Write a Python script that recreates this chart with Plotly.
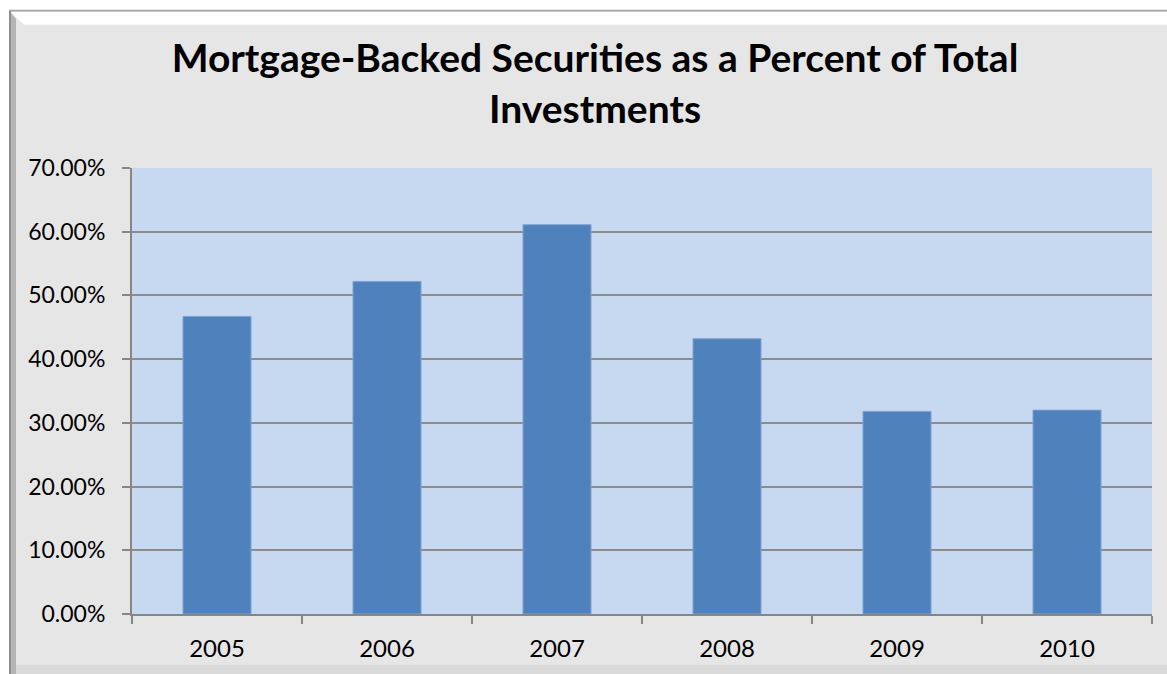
import plotly.graph_objects as go

# Share of total investments held in mortgage-backed securities, by year
years = ["2005", "2006", "2007", "2008", "2009", "2010"]
mbs_share = [46.7, 52.2, 61.1, 43.2, 31.8, 32.0]  # percent

y_ticks = [0, 10, 20, 30, 40, 50, 60, 70]
y_tick_labels = [f"{v:.2f}%" for v in y_ticks]

title_text = "Mortgage-Backed Securities as a Percent of Total<br>Investments"

FONT = "Lato"

fig = go.Figure(
    go.Bar(
        x=years,
        y=mbs_share,
        marker=dict(color="#4f81bd", line=dict(color="#7fa2d2", width=1)),
        width=0.4,
        hoverinfo="x+y",
    )
)

W, H = 1167, 674
L, R, T, B = 132, 15, 168, 58
pw, ph = W - L - R, H - T - B


def px(x):
    return (x - L) / pw


def py(y):
    return (H - B - y) / ph


# Bevelled chart frame around the grey panel (kept clear of the plot area)
shapes = [
    # white strip above the panel
    dict(type="rect", xref="paper", yref="paper", x0=px(-5), x1=px(W + 5), y0=py(10), y1=py(-5),
         layer="below", line=dict(width=0), fillcolor="#ffffff"),
    # white strip left of the panel
    dict(type="rect", xref="paper", yref="paper", x0=px(-5), x1=px(9), y0=py(H + 5), y1=py(-5),
         layer="below", line=dict(width=0), fillcolor="#ffffff"),
    # top outline
    dict(type="line", xref="paper", yref="paper", x0=px(9), x1=px(W + 5), y0=py(10), y1=py(10),
         layer="below", line=dict(color="#a6a6a6", width=2)),
    # top bevel highlight
    dict(type="path", xref="paper", yref="paper", layer="below", line=dict(width=0), fillcolor="#ffffff",
         path=f"M {px(10)},{py(11)} L {px(W + 5)},{py(11)} L {px(W + 5)},{py(24)} L {px(24)},{py(24)} Z"),
    # left bevel shading
    dict(type="path", xref="paper", yref="paper", layer="below", line=dict(width=0), fillcolor="#b5b5b5",
         path=f"M {px(9)},{py(10)} L {px(16)},{py(18)} L {px(16)},{py(H + 5)} L {px(9)},{py(H + 5)} Z"),
    dict(type="line", xref="paper", yref="paper", x0=px(10), x1=px(10), y0=py(H + 5), y1=py(10),
         layer="below", line=dict(color="#8f8f8f", width=2)),
    # bottom edge shading
    dict(type="rect", xref="paper", yref="paper", x0=px(16), x1=px(W + 5), y0=py(H + 5), y1=py(667),
         layer="below", line=dict(width=0), fillcolor="#dadada"),
]

fig.update_layout(
    width=W,
    height=H,
    margin=dict(l=L, r=R, t=T, b=B, pad=0),
    paper_bgcolor="#e6e6e6",
    plot_bgcolor="#c6d9f1",
    showlegend=False,
    bargap=0.6,
    shapes=shapes,
    title=dict(
        text=title_text,
        x=595 / W,
        xref="container",
        xanchor="center",
        y=1 - 72 / H,
        yref="container",
        yanchor="middle",
        font=dict(family=FONT, size=39, color="#000000", weight="bold"),
    ),
    font=dict(family=FONT, color="#000000"),
    xaxis=dict(
        type="category",
        showgrid=False,
        showline=True,
        linecolor="#868686",
        linewidth=2,
        ticks="outside",
        tickson="boundaries",
        ticklen=8,
        tickcolor="#868686",
        tickwidth=1.5,
        ticklabelstandoff=12,
        tickfont=dict(family=FONT, size=24, color="#000000"),
        fixedrange=True,
    ),
    yaxis=dict(
        range=[0, 70],
        tickvals=y_ticks,
        ticktext=y_tick_labels,
        showgrid=True,
        gridcolor="#8c8c8c",
        gridwidth=2,
        zeroline=False,
        showline=True,
        linecolor="#868686",
        linewidth=2,
        ticks="outside",
        ticklen=8,
        tickcolor="#868686",
        tickwidth=1.5,
        ticklabelstandoff=12,
        tickfont=dict(family=FONT, size=23, color="#000000"),
        fixedrange=True,
    ),
)

fig.write_html("out.html")
